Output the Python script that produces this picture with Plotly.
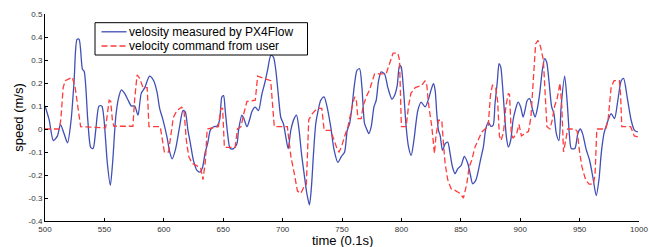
import plotly.graph_objects as go

# ---------------- data ----------------
series_names = ["velosity measured by PX4Flow", "velocity command from user"]

measured_t = [500, 503.5, 507, 510.5, 513, 516, 519, 522, 524.5, 527, 528.7, 531.5, 533, 536, 538.5,
              540.5, 542.7, 545.5, 547.8, 549.7, 552.5, 555, 557, 559.5, 561.7, 564.3, 567, 570, 572.7,
              575.5, 578.3, 581, 584, 588, 591.5, 594.3, 596.5, 599.3, 602.7, 605, 607, 610, 613.3,
              616.1, 618, 620.3, 622.3, 625.1, 627.9, 630.7, 632.7, 634.9, 636.9, 639.1, 641.9, 644.7,
              647, 648.9, 650.3, 651.7, 653.7, 655.9, 658.7, 661.5, 662.9, 665.7, 667.1, 670, 672.2,
              674.1, 676.9, 679.7, 682.5, 685, 687.3, 690.1, 692.3, 694.3, 696.3, 698.5, 700.7, 702.7,
              704.7, 706.9, 709.7, 711.7, 713.9, 715.9, 718.1, 720.4, 722.6, 724.3, 726, 727.9, 729.9,
              732.1, 734.9, 737.7, 740.5, 743.3, 746.5, 749.4, 752.2, 754.4, 756.4, 758.4, 760.6, 762.6,
              764.8, 766.8, 769, 771.2, 772.6, 774.6, 776.9, 778.8, 780.8, 783, 785.8, 788.6, 792,
              794.2, 796.5, 798.4, 799.8, 801.8, 804, 806, 808.2, 810.5, 813.8, 816.6, 820, 822.8,
              825.6, 827, 828.4, 829.8, 831.2, 832.6, 834.6, 836.8, 839, 841, 843, 845.2, 847.5, 850.3,
              853, 855.9, 858.1, 860, 862.6, 864.8, 866.8, 869, 871, 873.2, 875.2, 877.2, 878.8, 880.8,
              882.2, 883.6, 885, 886.4, 888.4, 890, 892, 894, 896.2, 898.2, 900.4, 902.4, 904, 906, 908,
              910.2, 912.5, 914.4, 916.4, 918.6, 920.6, 922.3, 924.2, 926.5, 928.4, 930.4, 932.6, 934.5,
              937.4, 939.5, 941.5, 943, 946, 948.5, 950.6, 952.5, 955.6, 958.4, 961.2, 964, 966.3, 968.2,
              970.5, 973, 976.6, 979.4, 982.2, 985, 987, 990, 993.4, 996.2, 999]
measured_v = [0.10, 0.04, -0.05, -0.03, 0.02, -0.02, -0.06, 0.04, 0.21, 0.39, 0.39, 0.26, 0.25, 0.04, -0.08,
              -0.085, -0.005, 0.10, 0.10, 0.04, -0.15, -0.245, -0.14, 0.05, 0.13, 0.17, 0.155, 0.125, 0.10,
              0.10, 0.06, 0.155, 0.18, 0.23, 0.21, 0.16, 0.09, 0.04, -0.035, -0.10, -0.13, -0.085, 0.01,
              0.08, 0.075, -0.005, -0.06, -0.14, -0.18, -0.187, -0.165, -0.10, -0.064, -0.006, 0.01, 0.012,
              0.04, 0.14, 0.145, 0.08, -0.02, -0.085, -0.085, -0.065, -0.006, 0.06, 0.05, 0.01, 0.04,
              0.075, 0.095, 0.08, 0.15, 0.20, 0.255, 0.32, 0.313, 0.255, 0.154, 0.05, 0.023, -0.035,
              -0.085, -0.006, 0.045, 0.06, -0.006, -0.107, -0.194, -0.28, -0.33, -0.25, -0.107, 0.023, 0.08,
              0.125, 0.14, 0.09, 0.01, -0.09, -0.145, -0.12, -0.10, -0.006, 0.023, 0.096, 0.197, 0.255,
              0.262, 0.18, 0.023, -0.006, -0.02, 0.01, 0.096, 0.125, 0.21, 0.248, 0.24, 0.18, 0.13,
              0.146, 0.19, 0.277, 0.27, 0.168, 0.01, -0.078, -0.115, -0.05, 0.08, 0.117, 0.096, 0.13,
              0.18, 0.197, 0.168, 0.067, -0.006, -0.028, -0.093, -0.064, -0.057, -0.107, -0.165, -0.194, -0.172, -0.158,
              -0.119, -0.15, -0.2, -0.238, -0.223, -0.18, -0.129, -0.078, 0.0, 0.03, 0.012, 0.016, 0.11, 0.21,
              0.284, 0.27, 0.197, 0.096, -0.035, -0.078, -0.049, 0.038, 0.088, 0.117, 0.096, 0.052, 0.08, 0.125, 0.132,
              0.088, 0.052, 0.088, 0.154, 0.255, 0.306, 0.29, 0.21, 0.096, 0.067, -0.02, -0.05, 0.10,
              0.23, 0.12, -0.03, -0.085, -0.085, -0.02, 0.0, -0.02, -0.09, -0.136, -0.21, -0.29, -0.22, -0.107,
              -0.02, 0.023, 0.067, 0.045, 0.125, 0.21, 0.22, 0.14, 0.038, -0.006, -0.013]

command_t = [500, 512, 513.3, 515.3, 517, 520.3, 523, 525.4, 527.3, 528.7, 530, 551, 552.5, 554, 555.3,
             556.7, 558, 574, 575.5, 577.5, 579.7, 582.5, 586, 587.5, 597, 599, 600.5, 604, 606, 608,
             611, 615, 617, 619, 621, 624, 628, 631, 633, 635, 636.5, 646, 648, 649.5, 651, 660, 662,
             665, 667, 670, 677, 679, 690, 693, 704, 707, 709.7, 712.5, 715.3, 718.1, 720, 722, 725,
             729.3, 733, 735, 740.5, 743.3, 746.1, 747.5, 749.4, 752, 755, 757.8, 760.6, 762, 763.4,
             766.2, 767.6, 770.4, 773.2, 777.4, 787.2, 790, 793, 797, 798.4, 800, 804, 806, 808, 811.6,
             817.2, 820, 821.4, 822.8, 825.6, 827.8, 829, 831.2, 834, 835.4, 836.8, 839, 841.8, 845.2,
             849.4, 852.2, 855, 857, 859.2, 862, 864.8, 867.6, 870.4, 873, 875, 876.6, 879.4, 881,
             882.5, 884, 886, 888, 890, 891, 892.5, 894, 897, 899, 901, 904, 907, 909, 911, 913, 915,
             917, 919.5, 921, 922.5, 925, 927, 929, 931, 933.5, 935, 936.5, 938, 940, 946, 948, 950,
             952, 955, 958, 961.5, 963, 964.5, 972, 974, 976.5, 979, 983.5, 984.5, 985.5, 993, 996, 1000]
command_v = [0.0, 0.0, 0.04, 0.18, 0.21, 0.22, 0.225, 0.18, 0.11, 0.04, 0.01, 0.005, 0.067, 0.125, 0.12,
             0.04, 0.012, 0.012, 0.13, 0.235, 0.22, 0.18, 0.18, 0.01, 0.01, -0.05, -0.10, -0.10, -0.02, 0.05,
             0.08, 0.095, 0.08, -0.05, -0.12, -0.15, -0.16, -0.17, -0.22, -0.14, 0.0, 0.01, 0.09, 0.09, -0.08,
             -0.08, 0.0, 0.01, 0.06, 0.12, 0.125, 0.23, 0.21, 0.01, 0.01, -0.12, -0.19, -0.27, -0.28, -0.25,
             -0.24, 0.04, 0.067, 0.09, 0.09, -0.006, -0.006, -0.05, -0.09, -0.10, -0.08, -0.035, 0.01, 0.08,
             0.14, 0.13, 0.045, 0.045, 0.096, 0.14, 0.17, 0.24, 0.24, 0.284, 0.33, 0.33, 0.30, 0.01, 0.01,
             0.10, 0.155, 0.18, 0.19, 0.21, 0.19, 0.11, 0.01, -0.107, -0.035, 0.038, 0.038, -0.064, -0.15,
             -0.22, -0.26, -0.267, -0.28, -0.30, -0.24, -0.165, -0.136, -0.078, -0.042, -0.013, 0.0, 0.01,
             0.15, 0.19, 0.18, 0.12, -0.03, -0.05, -0.01, 0.10, 0.155, 0.15, -0.02, -0.04, -0.02, 0.02,
             -0.03, -0.02, -0.01, 0.05, 0.20, 0.37, 0.385, 0.36, 0.30, 0.12, 0.01, 0.0, 0.04, 0.10, 0.13,
             0.20, 0.10, -0.10, -0.05, 0.0, 0.0, -0.01, -0.10, -0.165, -0.22, -0.24, -0.24, -0.20, 0.0, 0.0,
             0.04, 0.18, 0.21, 0.21, 0.15, 0.01, 0.01, -0.03, -0.035]

x_ticks = [500, 550, 600, 650, 700, 750, 800, 850, 900, 950, 1000]
y_ticks = [-0.4, -0.3, -0.2, -0.1, 0, 0.1, 0.2, 0.3, 0.4, 0.5]
y_tick_labels = ["-0.4", "-0.3", "-0.2", "-0.1", "0", "0.1", "0.2", "0.3", "0.4", "0.5"]
x_title = "time (0.1s)"
y_title = "speed (m/s)"

# ---------------- figure ----------------
W, H = 649, 247
ML, MR, MT, MB = 45, 10, 14, 26
BLUE = "#3f4fb6"
RED = "#ff3b3b"
FONT = "Liberation Sans, Arial, Helvetica, sans-serif"

fig = go.Figure()
fig.add_trace(go.Scatter(x=measured_t, y=measured_v, mode="lines", name=series_names[0],
                         line=dict(color=BLUE, width=1.3, shape="spline", smoothing=0.7)))
fig.add_trace(go.Scatter(x=command_t, y=command_v, mode="lines", name=series_names[1],
                         line=dict(color=RED, width=1.3, dash="6px,3px")))

pw, ph = W - ML - MR, H - MT - MB
def px(xp): return (xp - ML) / pw
def py(yp): return (H - MB - yp) / ph

ROW1, ROW2 = 31.8, 46.0

# custom legend (box, samples, labels)
shapes = [
    dict(type="rect", xref="paper", yref="paper", x0=px(95), x1=px(307.5), y0=py(55), y1=py(22.7),
         line=dict(color="black", width=1), fillcolor="white", layer="above"),
    dict(type="line", xref="paper", yref="paper", x0=px(101.5), x1=px(126.5), y0=py(ROW1), y1=py(ROW1),
         line=dict(color=BLUE, width=1.3), layer="above"),
    dict(type="line", xref="paper", yref="paper", x0=px(101.5), x1=px(126.5), y0=py(ROW2), y1=py(ROW2),
         line=dict(color=RED, width=1.3, dash="6px,3px"), layer="above"),
]
annotations = [
    dict(xref="paper", yref="paper", x=px(127.5), y=py(ROW1), text=series_names[0], showarrow=False,
         xanchor="left", yanchor="middle", borderpad=0,
         font=dict(family=FONT, size=12, color="black")),
    dict(xref="paper", yref="paper", x=px(127.5), y=py(ROW2), text=series_names[1], showarrow=False,
         xanchor="left", yanchor="middle", borderpad=0,
         font=dict(family=FONT, size=12, color="black")),
    dict(xref="paper", yref="paper", x=0.5, y=py(240), text=x_title, showarrow=False,
         xanchor="center", yanchor="middle", borderpad=0,
         font=dict(family=FONT, size=13, color="black")),
]

fig.update_layout(
    width=W, height=H, margin=dict(l=ML, r=MR, t=MT, b=MB, pad=0, autoexpand=False),
    paper_bgcolor="white", plot_bgcolor="white", showlegend=False,
    font=dict(family=FONT, color="black"),
    shapes=shapes, annotations=annotations,
    xaxis=dict(range=[500, 1000], tickvals=x_ticks, ticktext=[str(v) for v in x_ticks],
               ticks="inside", ticklen=3, tickcolor="black", tickwidth=1,
               showline=True, linecolor="black", linewidth=1, mirror=False,
               showgrid=False, zeroline=False, automargin=False,
               tickfont=dict(family=FONT, size=8, color="#333333")),
    yaxis=dict(range=[-0.4, 0.5], tickvals=y_ticks, ticktext=y_tick_labels,
               ticks="inside", ticklen=3, tickcolor="black", tickwidth=1,
               showline=True, linecolor="black", linewidth=1, mirror=False,
               showgrid=False, zeroline=False, automargin=False,
               tickfont=dict(family=FONT, size=8, color="#333333"),
               title=dict(text=y_title, font=dict(family=FONT, size=13, color="black"), standoff=2)),
)

fig.write_html("out.html", config={"displayModeBar": False},
               post_script="document.body.style.margin='0';")
